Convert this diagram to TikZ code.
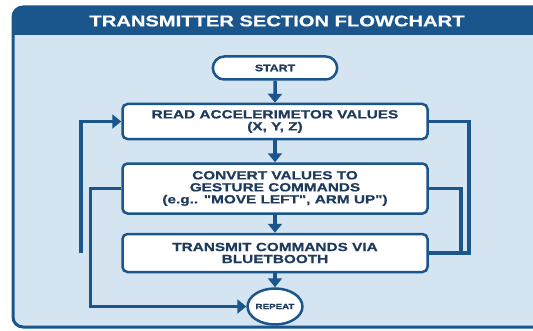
\documentclass[tikz,border=0pt]{standalone}
\usepackage{fontspec}
\setmainfont{Liberation Sans}[FakeStretch=1.3, Ligatures=TeXOff, BoldFeatures={FakeBold=0.6}]
\usepackage{xcolor}
\usepackage{tikz}
\usetikzlibrary{arrows.meta, positioning, shapes.geometric, shapes.misc}

\definecolor{mainblue}{HTML}{1A568C}
\definecolor{textblue}{HTML}{1E3A5C}
\definecolor{bgblue}{HTML}{D5E4F1}

\begin{document}
\begin{tikzpicture}[
  x=1pt, y=1pt,
  startstop/.style={rounded rectangle, draw=mainblue, fill=white, line width=2.5pt,
                    minimum width=131pt, minimum height=23pt,
                    font=\fontsize{9.5}{10}\selectfont\bfseries, text=textblue},
  process/.style={rectangle, rounded corners=5pt, draw=mainblue, fill=white,
                  line width=2.5pt, minimum width=305pt, align=center,
                  font=\fontsize{11.8}{12}\selectfont\bfseries, text=textblue},
  endnode/.style={ellipse, draw=mainblue, fill=white, line width=2.5pt,
                  minimum width=53pt, minimum height=36pt, inner sep=0pt,
                  font=\fontsize{7.5}{8}\selectfont\bfseries, text=textblue},
  arr/.style={-{Triangle[width=14pt,length=9pt]}, line width=3.5pt, mainblue},
  link/.style={line width=3.5pt, mainblue},
]

% frame and title bar
\useasboundingbox (0,0) rectangle (533,330);
\begin{scope}
\clip (0,0) rectangle (533,330);
\fill[white] (0,0) rectangle (533,330);
\fill[bgblue, rounded corners=10pt] (13,3) rectangle (560,323);
\fill[mainblue, rounded corners=10pt] (13,295) |- (560,323) [sharp corners] -- (560,295) -- cycle;
\draw[mainblue, line width=3pt, rounded corners=10pt] (13,3) rectangle (560,323);
\end{scope}
\node[text=white, font=\fontsize{15.5}{16}\selectfont\bfseries] (title) at (277,309) {TRANSMITTER SECTION FLOWCHART};

\node[startstop] (start) at (275,262) {START};
\node[process, minimum height=35pt, below=22pt of start] (read) {READ ACCELERIMETOR VALUES\\(X, Y, Z)};
\node[process, minimum height=50pt, below=22pt of read] (convert) {CONVERT VALUES TO\\GESTURE COMMANDS\\(e.g.. "MOVE LEFT", ARM UP")};
\node[process, minimum height=38pt, below=18pt of convert] (transmit) {TRANSMIT COMMANDS VIA\\BLUETBOOTH};
\node[endnode, below=14pt of transmit] (repeat) {REPEAT};
\coordinate (loopend) at (81,77);

\draw[arr] (start) -- (read);
\draw[arr] (read) -- (convert);
\draw[arr] (convert) -- (transmit);
\draw[arr] (transmit) -- (repeat);
\draw[arr] (loopend) |- (read.west);
\draw[arr] (convert.west) -- ++(-31,0) |- (repeat.west);
\draw[link] (read.east) -- ++(40,0) |- (transmit.east);
\draw[link] (convert.east) -- ++(32,0) |- (transmit.east);

\end{tikzpicture}
\end{document}
